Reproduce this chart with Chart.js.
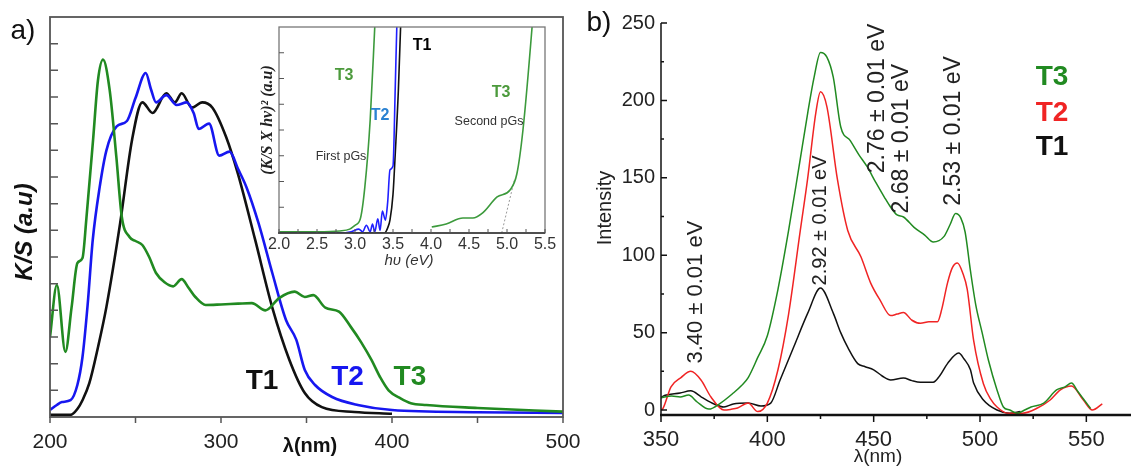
<!DOCTYPE html>
<html>
<head>
<meta charset="utf-8">
<script src="https://cdn.jsdelivr.net/npm/chart.js@4.4.1/dist/chart.umd.min.js"></script>
<style>
  body { margin: 0; background: #fff; }
  #wrap { position: relative; width: 1131px; height: 474px; overflow: hidden; }
  canvas { position: absolute; }
</style>
</head>
<body>
<div id="wrap">
  <canvas id="ka" width="580" height="474" style="left:0;top:0"></canvas>
  <canvas id="kb" width="551" height="474" style="left:580px;top:0"></canvas>
  <canvas id="ins" width="320" height="250" style="left:250px;top:20px"></canvas>
</div>
<script>
// ---- panel a : K/S against wavelength (nm)
var aT1nm = [200, 212, 216, 219, 223, 228, 233, 241, 248, 254, 260, 268, 273, 277, 283, 289, 295, 303, 310, 320, 330, 340, 349, 359, 378, 400];
var aT1ks = [0.08, 0.08, 0.3, 0.63, 1.27, 2.6, 4.13, 7.26, 10.4, 11.8, 11.4, 12.14, 11.8, 12.14, 11.6, 11.8, 11.6, 10.5, 9.1, 6.64, 4.1, 2.14, 0.9, 0.37, 0.19, 0.12];

var aT2nm = [200, 204, 207, 212, 216, 219, 222, 225, 229, 233, 239, 245, 250, 256, 259, 262, 268, 274, 280, 284, 287, 293, 299, 305, 310, 315, 322, 330, 338, 344, 349, 355, 365, 380, 400, 450, 500];
var aT2ks = [0.26, 0.45, 0.56, 0.63, 1.2, 2.25, 4.2, 6.64, 8.6, 10.0, 10.9, 11.1, 11.96, 12.9, 12.3, 11.8, 12.07, 11.7, 11.8, 11.4, 10.8, 11.0, 9.8, 9.95, 9.3, 8.6, 7.26, 5.4, 3.64, 2.9, 1.76, 1.2, 0.75, 0.45, 0.26, 0.18, 0.15];

var aT3nm = [200, 204, 209, 212.6, 216, 219, 221.3, 225.2, 228, 231, 234.9, 238.8, 242, 246.5, 250, 254, 258, 262, 267, 272, 277, 281, 285, 291, 300, 310, 318, 326, 334, 343, 349, 354, 361, 369, 376, 382, 388, 393, 398, 405, 411, 420, 450, 500];
var aT3ks = [3.0, 4.95, 2.44, 4.1, 5.77, 5.96, 7.46, 10.4, 12.6, 13.4, 12.26, 9.75, 7.5, 6.75, 6.6, 6.45, 6.0, 5.4, 5.05, 4.9, 5.17, 4.85, 4.5, 4.2, 4.22, 4.25, 4.27, 4.0, 4.46, 4.7, 4.5, 4.57, 4.1, 3.95, 3.37, 2.8, 2.14, 1.5, 1.0, 0.7, 0.52, 0.45, 0.34, 0.2];

// ---- inset : (K/S x hv)^2 against photon energy (eV)
var iT3aEv = [2.0, 2.5, 2.8, 2.93, 3.0, 3.07, 3.13, 3.2, 3.26, 3.3];
var iT3aY = [0.05, 0.05, 0.08, 0.15, 0.3, 0.55, 1.8, 4.4, 8, 10.5];
var iT2Ev = [2.0, 2.8, 2.95, 3.05, 3.1, 3.15, 3.2, 3.23, 3.26, 3.3, 3.33, 3.36, 3.4, 3.43, 3.46, 3.5, 3.53, 3.55, 3.58];
var iT2Y = [0, 0, 0.05, 0.15, 0.05, 0.3, 0.05, 0.35, 0.05, 0.55, 0.1, 0.85, 0.5, 1.2, 2.45, 2.6, 5.7, 8, 10];
var iT1Ev = [2.0, 3.0, 3.39, 3.43, 3.46, 3.5, 3.53, 3.57, 3.6, 3.63];
var iT1Y = [0, 0, 0, 0.2, 0.5, 1.5, 3.1, 5.5, 8, 10];
var iT3bEv = [4.01, 4.2, 4.42, 4.55, 4.68, 4.87, 5.04, 5.13, 5.21, 5.33, 5.38];
var iT3bY = [0.23, 0.35, 0.58, 0.58, 0.78, 1.4, 1.67, 2.3, 4.0, 8, 10];
var iTanEv = [4.93, 5.1];
var iTanY = [0, 2.1];

// ---- panel b : PL intensity against wavelength (nm)
var bT1nm = [350, 351, 359, 364, 369, 375, 379.6, 384, 391, 397, 401.6, 406, 412.4, 419, 425, 431, 434.5, 438, 442.5, 446, 450, 454, 458, 464, 468, 472, 478, 481, 484.7, 490, 492.5, 495.5, 497, 501.6, 508, 514, 519];
var bT1i = [8, 9, 11, 12.4, 8.4, 3.9, 2, 3.9, 4.5, 2.6, 4.5, 19.4, 40.7, 62.6, 78.8, 62.6, 50, 40, 30, 28, 26, 22, 19.4, 20.7, 19, 18, 18, 22, 30, 36.8, 33, 26, 17.4, 6.5, 0, -2, -1];

var bT2nm = [350, 351, 354.7, 359.4, 364, 368.8, 373.5, 379.6, 383, 386, 391, 395.5, 400, 405, 410, 415.5, 419, 422.8, 425, 428, 433, 437.8, 444, 448.6, 453, 458, 461, 464, 468, 472, 476, 480, 482, 484.7, 487, 489.4, 492, 494, 497, 501.6, 505, 508, 513, 520, 527, 533, 537.8, 543, 548.6, 552.8, 557.5];
var bT2i = [0, 1.3, 15, 21, 25, 19.4, 8.4, 0, 0.5, 1.3, 4.5, -1, 4.5, 26, 62, 116, 150, 192, 205.6, 196, 148.6, 116, 99, 82, 71, 61, 62, 63, 58, 56, 57, 57, 65, 82, 92, 95, 88, 78, 45, 17, 7, 2, -2, -2, 1.3, 6.5, 13, 15.5, 6.5, 0, 4];

var bT3nm = [350, 355, 359, 363, 367, 372.5, 378, 384, 388, 391, 395.5, 400, 405, 410, 415, 419, 422, 425, 428, 431, 434.5, 439, 443, 447, 451, 455, 458, 461, 464, 469, 474, 478, 483, 486, 488.5, 491, 493, 495.5, 498, 501, 504, 508, 511, 514, 517.6, 521, 524, 530, 536, 540, 543, 546, 549, 552];
var bT3i = [8, 9, 8.4, 9.7, 5.2, 0.6, 4.5, 11, 16, 21, 34, 48, 78, 116, 158, 192, 215, 231, 228, 215, 183, 174, 165, 157, 147, 137.6, 131, 126, 124.7, 118, 113, 108.5, 112, 120, 127, 124, 115, 90, 68, 50, 32, 13, 2, 0, -2, 0, 2, 4.5, 13, 15, 17.4, 12, 6.5, 1];

// peak labels of panel b: text, wavelength, intensity where the text starts
var bNoteText = ['3.40 \u00b1 0.01 eV', '2.92 \u00b1 0.01 eV', '2.76 \u00b1 0.01 eV', '2.68 \u00b1 0.01 eV', '2.53 \u00b1 0.01 eV'];
var bNoteNm = [366.4, 425, 451.8, 463.2, 487.6];
var bNoteAt = [30, 80.5, 153, 127, 132];
var bNoteSize = [22, 20, 23, 23, 23];

var SANS = "'Liberation Sans', Arial, sans-serif";
var SERIF = "'Liberation Serif', 'Times New Roman', serif";
Chart.defaults.font.family = SANS;

var GREEN = '#218a21', BLUE = '#1717f0', BLACK = '#111111', RED = '#f02424';

function pts(xs, ys) {
  return xs.map(function (x, i) { return { x: x, y: ys[i] }; });
}
function curve(xs, ys, color, w, dash) {
  return {
    data: pts(xs, ys), borderColor: color, borderWidth: w, borderDash: dash || [],
    pointRadius: 0, fill: false, cubicInterpolationMode: 'monotone'
  };
}

// frame, axis lines, tick marks and free texts
function decor(cfg) {
  return {
    id: 'decor',
    afterDraw: function (chart) {
      var ctx = chart.ctx, a = chart.chartArea;
      ctx.save();
      if (cfg.frame) {
        ctx.strokeStyle = cfg.frame.color; ctx.lineWidth = cfg.frame.width;
        ctx.strokeRect(a.left, a.top, a.right - a.left, a.bottom - a.top);
      }
      (cfg.axes || []).forEach(function (ax) {
        ctx.strokeStyle = ax.color; ctx.lineWidth = ax.width;
        ctx.beginPath();
        if (ax.side === 'bottom') { ctx.moveTo(a.left - 1, a.bottom); ctx.lineTo(a.right, a.bottom); }
        else { ctx.moveTo(a.left, a.top); ctx.lineTo(a.left, a.bottom); }
        ctx.stroke();
      });
      (cfg.ticks || []).forEach(function (t) {
        var sc = chart.scales[t.scale];
        ctx.strokeStyle = t.color; ctx.lineWidth = t.width;
        ctx.beginPath();
        for (var v = t.from; v <= t.to + 1e-9; v += t.step) {
          var p = sc.getPixelForValue(v);
          if (t.scale === 'x') { ctx.moveTo(p, a.bottom); ctx.lineTo(p, a.bottom + t.len); }
          else { ctx.moveTo(a.left, p); ctx.lineTo(a.left + t.len, p); }
        }
        ctx.stroke();
      });
      (cfg.texts || []).forEach(function (t) {
        var x = t.x, y = t.y;
        if (t.data) {
          x = chart.scales.x.getPixelForValue(t.x);
          y = chart.scales.y.getPixelForValue(t.y);
        }
        ctx.save();
        ctx.translate(x, y);
        if (t.rot) ctx.rotate(t.rot * Math.PI / 180);
        ctx.font = t.font;
        ctx.fillStyle = t.color || '#222';
        ctx.textAlign = t.align || 'center';
        ctx.textBaseline = 'middle';
        ctx.fillText(t.t, 0, 0);
        ctx.restore();
      });
      ctx.restore();
    }
  };
}

// linear scale with fixed thickness and no extra padding for edge labels
function linScale(min, max, size, ticks) {
  return {
    type: 'linear', min: min, max: max,
    grid: { display: false, drawTicks: false }, border: { display: false },
    ticks: ticks,
    afterFit: function (s) {
      if (s.isHorizontal()) s.height = size; else s.width = size;
      s.paddingLeft = 0; s.paddingRight = 0; s.paddingTop = 0; s.paddingBottom = 0;
    }
  };
}

// ---------- panel a
new Chart(document.getElementById('ka'), {
  type: 'line',
  data: { datasets: [
    curve(aT3nm, aT3ks, GREEN, 2.6),
    curve(aT2nm, aT2ks, BLUE, 2.6),
    curve(aT1nm, aT1ks, BLACK, 2.6)
  ] },
  options: {
    responsive: false, animation: false,
    layout: { padding: { top: 17, right: 17, left: 0, bottom: 0 } },
    plugins: { legend: { display: false }, tooltip: { enabled: false } },
    scales: {
      x: linScale(200, 500, 57, { stepSize: 100, includeBounds: false, autoSkip: false, maxRotation: 0, padding: 13, color: '#222', font: { size: 21 } }),
      y: linScale(0, 15, 50, { display: false })
    }
  },
  plugins: [decor({
    frame: { color: '#555', width: 1.8 },
    ticks: [
      { scale: 'x', from: 200, to: 500, step: 50, len: 6, color: '#555', width: 1.5 },
      { scale: 'y', from: 1, to: 14, step: 1, len: 8, color: '#555', width: 1.5 }
    ],
    texts: [
      { t: 'a)', x: 23, y: 31, font: '28px ' + SANS, color: '#111' },
      { t: 'K/S (a.u)', x: 25, y: 232, rot: -90, font: 'italic bold 24px ' + SANS, color: '#111' },
      { t: '\u03bb(nm)', x: 310, y: 446, font: 'bold 20px ' + SANS, color: '#111' },
      { t: 'T1', x: 324, y: 1.35, data: true, font: 'bold 28px ' + SANS, color: BLACK },
      { t: 'T2', x: 374, y: 1.48, data: true, font: 'bold 28px ' + SANS, color: BLUE },
      { t: 'T3', x: 410.5, y: 1.48, data: true, font: 'bold 28px ' + SANS, color: GREEN }
    ]
  })]
});

// ---------- inset
new Chart(document.getElementById('ins'), {
  type: 'line',
  data: { datasets: [
    curve(iT3aEv, iT3aY, '#3c9a3c', 1.6),
    curve(iT3bEv, iT3bY, '#3c9a3c', 1.6),
    curve(iT2Ev, iT2Y, '#2020ff', 1.6),
    curve(iT1Ev, iT1Y, BLACK, 1.6),
    curve(iTanEv, iTanY, '#999', 1, [2, 2])
  ] },
  options: {
    responsive: false, animation: false,
    layout: { padding: { top: 7, right: 25, left: 0, bottom: 0 } },
    plugins: { legend: { display: false }, tooltip: { enabled: false } },
    scales: {
      x: linScale(2, 5.5, 37, { stepSize: 0.5, autoSkip: false, maxRotation: 0, padding: 2, color: '#333', font: { size: 16 },
                                callback: function (v) { return v.toFixed(1); } }),
      y: linScale(0, 8, 29, { display: false })
    }
  },
  plugins: [decor({
    frame: { color: '#777', width: 1.3 },
    axes: [{ side: 'bottom', color: '#333', width: 1.6 }],
    ticks: [
      { scale: 'x', from: 2, to: 5.5, step: 0.25, len: -4, color: '#555', width: 1 },
      { scale: 'y', from: 1, to: 7, step: 1, len: 5, color: '#555', width: 1 }
    ],
    texts: [
      { t: '(K/S X hv)\u00b2 (a.u)', x: 18, y: 100, rot: -90, font: 'italic bold 16px ' + SERIF, color: '#222' },
      { t: 'h\u03c5 (eV)', x: 159, y: 241, font: 'italic 15px ' + SANS, color: '#333' },
      { t: 'T3', x: 94, y: 56, font: 'bold 16px ' + SANS, color: '#4c9a3c' },
      { t: 'T2', x: 130, y: 96, font: 'bold 16px ' + SANS, color: '#2a82d2' },
      { t: 'T1', x: 172, y: 26, font: 'bold 16px ' + SANS, color: '#000' },
      { t: 'First pGs', x: 91, y: 137, font: '12.5px ' + SANS, color: '#333' },
      { t: 'T3', x: 251, y: 73, font: 'bold 16px ' + SANS, color: '#4c9a3c' },
      { t: 'Second pGs', x: 239, y: 102, font: '12.5px ' + SANS, color: '#333' }
    ]
  })]
});

// ---------- panel b
var bTexts = [
  { t: 'b)', x: 19, y: 23, font: '28px ' + SANS, color: '#111' },
  { t: 'Intensity', x: 25, y: 208, rot: -90, font: '20px ' + SANS, color: '#222' },
  { t: '\u03bb(nm)', x: 298, y: 457, font: '19px ' + SANS, color: '#222' },
  { t: 'T3', x: 472, y: 77, font: 'bold 28px ' + SANS, color: GREEN },
  { t: 'T2', x: 472, y: 113, font: 'bold 28px ' + SANS, color: RED },
  { t: 'T1', x: 472, y: 147, font: 'bold 28px ' + SANS, color: BLACK }
];
bNoteText.forEach(function (s, i) {
  bTexts.push({ t: s, x: bNoteNm[i], y: bNoteAt[i], data: true, rot: -90, align: 'left', font: bNoteSize[i] + 'px ' + SANS, color: '#222' });
});

new Chart(document.getElementById('kb'), {
  type: 'line',
  data: { datasets: [
    curve(bT3nm, bT3i, GREEN, 1.5),
    curve(bT2nm, bT2i, RED, 1.5),
    curve(bT1nm, bT1i, BLACK, 1.5)
  ] },
  options: {
    responsive: false, animation: false,
    layout: { padding: { top: 23, right: 0, left: 0, bottom: 0 } },
    plugins: { legend: { display: false }, tooltip: { enabled: false } },
    scales: {
      x: linScale(350, 571, 59, { stepSize: 50, includeBounds: false, autoSkip: false, maxRotation: 0, padding: 12, color: '#222', font: { size: 22 } }),
      y: linScale(-3.2, 250, 81, { stepSize: 50, includeBounds: false, padding: 6, color: '#222', font: { size: 20 } })
    }
  },
  plugins: [decor({
    axes: [{ side: 'left', color: '#111', width: 1.5 }, { side: 'bottom', color: '#111', width: 2.5 }],
    ticks: [
      { scale: 'x', from: 350, to: 550, step: 50, len: 7, color: '#111', width: 1.5 },
      { scale: 'x', from: 375, to: 575, step: 50, len: 4, color: '#111', width: 1.5 },
      { scale: 'y', from: 0, to: 250, step: 50, len: 6, color: '#111', width: 1.5 },
      { scale: 'y', from: 25, to: 225, step: 50, len: 3, color: '#111', width: 1.5 }
    ],
    texts: bTexts
  })]
});
</script>
</body>
</html>
